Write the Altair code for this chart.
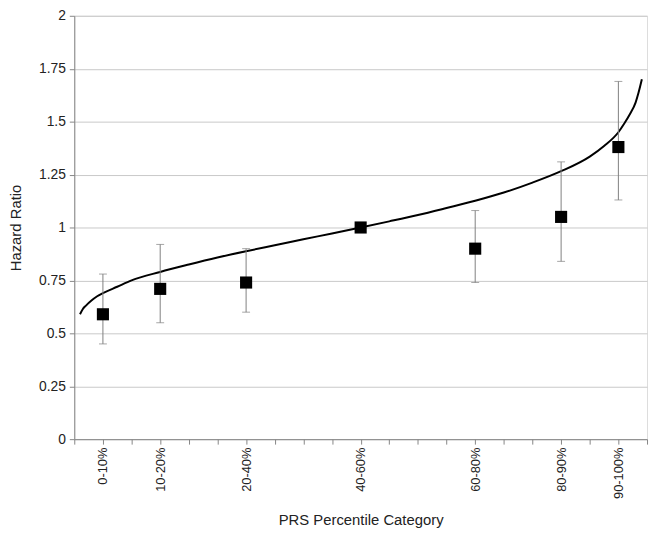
import altair as alt
import pandas as pd

# Categories and positions (percentile midpoints)
categories = ["0-10%", "10-20%", "20-40%", "40-60%", "60-80%", "80-90%", "90-100%"]
positions = [5, 15, 30, 50, 70, 85, 95]
hr = [0.59, 0.71, 0.74, 1.00, 0.90, 1.05, 1.38]
ci_low = [0.45, 0.55, 0.60, 1.00, 0.74, 0.84, 1.13]
ci_high = [0.78, 0.92, 0.90, 1.00, 1.08, 1.31, 1.69]

# Smooth curve
curve_pct = [1.0, 1.5, 2, 3, 4, 5, 7.5, 10, 15, 20, 25, 30, 35, 40, 45, 50,
             55, 60, 65, 70, 75, 80, 85, 90, 92.5, 95, 96, 97, 98, 98.5, 99.1]
curve_hr = [0.59, 0.615, 0.63, 0.655, 0.675, 0.69, 0.72, 0.75, 0.79, 0.825,
            0.858, 0.888, 0.916, 0.944, 0.972, 1.0, 1.029, 1.059, 1.092, 1.126,
            1.165, 1.212, 1.266, 1.335, 1.385, 1.45, 1.49, 1.535, 1.59, 1.635, 1.70]

y_ticks = [0, 0.25, 0.5, 0.75, 1, 1.25, 1.5, 1.75, 2]
x_ticks = list(range(0, 101, 5))

pts = pd.DataFrame({"cat": categories, "x": positions, "hr": hr,
                    "lo": ci_low, "hi": ci_high})
err = pts[pts["lo"] < pts["hi"]]
curve = pd.DataFrame({"x": curve_pct, "hr": curve_hr})

label_expr = ""
for p, c in zip(positions, categories):
    label_expr += f"datum.value == {p} ? '{c}' : "
label_expr += "''"

FONT = "Liberation Sans"
W, H = 579, 428

xscale = alt.Scale(domain=[0, 100], nice=False, zero=False)
yscale = alt.Scale(domain=[0, 2], nice=False)

xaxis = alt.Axis(values=x_ticks, labelExpr=label_expr, labelAngle=270,
                 grid=False, domain=True, domainColor="#868686", tickColor="#868686",
                 tickSize=5, labelPadding=3, labelFontSize=13, labelColor="#222222",
                 labelFont=FONT, title="PRS Percentile Category", titleFont=FONT,
                 titleFontSize=15, titleFontWeight="normal", titleColor="#222222",
                 titleY=81, titleBaseline="middle", labelOverlap=False,
                 labelBound=False, labelFlush=False)
yaxis = alt.Axis(values=y_ticks, labelExpr="'' + datum.value", grid=True,
                 gridColor="#c8c8c8", domainColor="#868686", tickColor="#868686",
                 tickSize=5, labelPadding=4, labelFontSize=14, labelColor="#222222",
                 labelFont=FONT, labelOverlap=False,
                 title="Hazard Ratio", titleFont=FONT, titleFontSize=15,
                 titleFontWeight="normal", titleColor="#222222", titleX=-59,
                 titleBaseline="middle", titleAngle=270)

X = alt.X("x:Q", scale=xscale, axis=xaxis)

line = alt.Chart(curve).mark_line(color="black", strokeWidth=2, interpolate="monotone").encode(
    x=X, y=alt.Y("hr:Q", scale=yscale, axis=yaxis))

rules = alt.Chart(err).mark_rule(color="#7f7f7f", strokeWidth=1).encode(
    x=X, y=alt.Y("lo:Q", scale=yscale, axis=yaxis), y2="hi:Q")
caps_lo = alt.Chart(err).mark_tick(color="#7f7f7f", orient="horizontal", size=8, thickness=1).encode(
    x=X, y=alt.Y("lo:Q", scale=yscale, axis=yaxis))
caps_hi = alt.Chart(err).mark_tick(color="#7f7f7f", orient="horizontal", size=8, thickness=1).encode(
    x=X, y=alt.Y("hi:Q", scale=yscale, axis=yaxis))
squares = alt.Chart(pts).mark_square(color="black", size=150, opacity=1).encode(
    x=X, y=alt.Y("hr:Q", scale=yscale, axis=yaxis))

chart = alt.layer(line, rules, caps_lo, caps_hi, squares).properties(
    width=W, height=H,
    autosize=alt.AutoSizeParams(type="none"),
    padding={"left": 67, "top": 5, "right": 2, "bottom": 95},
).configure_view(stroke=None).configure(background="white")

chart.save("out.html", embed_options={"renderer": "svg", "actions": False})
